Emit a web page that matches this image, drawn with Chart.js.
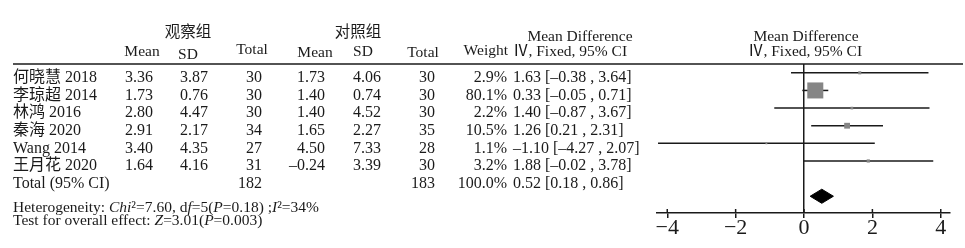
<!DOCTYPE html>
<html>
<head>
<meta charset="utf-8">
<script src="https://cdn.jsdelivr.net/npm/chart.js@4.4.1/dist/chart.umd.min.js"></script>
<style>
html, body { margin: 0; padding: 0; background: #fff; }
canvas { display: block; }
</style>
</head>
<body>
<canvas id="forestChart" width="965" height="248"></canvas>
<script>
// study rows
const studies = ['何晓慧 2018', '李琼超 2014', '林鸿 2016', '秦海 2020', 'Wang 2014', '王月花 2020'];
const expMean = [3.36, 1.73, 2.80, 2.91, 3.40, 1.64];
const expSD = [3.87, 0.76, 4.47, 2.17, 4.35, 4.16];
const expN = [30, 30, 30, 34, 27, 31];
const ctrlMean = [1.73, 1.40, 1.40, 1.65, 4.50, -0.24];
const ctrlSD = [4.06, 0.74, 4.52, 2.27, 7.33, 3.39];
const ctrlN = [30, 30, 30, 35, 28, 30];
const weights = [2.9, 80.1, 2.2, 10.5, 1.1, 3.2];
const md = [1.63, 0.33, 1.40, 1.26, -1.10, 1.88];
const ciLow = [-0.38, -0.05, -0.87, 0.21, -4.27, -0.02];
const ciHigh = [3.64, 0.71, 3.67, 2.31, 2.07, 3.78];

// pooled result
const totalLabel = 'Total (95% CI)';
const expTotal = 182;
const ctrlTotal = 183;
const totalWeight = 100.0;
const pooled = [0.18, 0.52, 0.86];

const xTicks = [-4, -2, 0, 2, 4];

const serif = "'Liberation Serif', 'Times New Roman', 'Noto Sans CJK SC', serif";
const ink = '#1a1a1a';

function fmt(v) {
    return v < 0 ? '–' + Math.abs(v).toFixed(2) : v.toFixed(2);
}

function ciText(m, lo, hi) {
    return fmt(m) + ' [' + fmt(lo) + ' , ' + fmt(hi) + ']';
}

function put(ctx, s, x, y, align, size, italic) {
    ctx.font = (italic ? 'italic ' : '') + (size || 16) + 'px ' + serif;
    ctx.textAlign = align || 'left';
    ctx.fillText(s, x, y);
}

function runs(ctx, parts, x, y, size) {
    ctx.textAlign = 'left';
    parts.forEach(p => {
        ctx.font = (p[1] ? 'italic ' : '') + size + 'px ' + serif;
        ctx.fillText(p[0], x, y);
        x += ctx.measureText(p[0]).width;
    });
}

const tablePlugin = {
    id: 'forestTable',
    afterDraw(chart) {
        const ctx = chart.ctx;
        const y = chart.scales.y;
        const x = chart.scales.x;
        const hs = 15.5;
        ctx.save();
        ctx.fillStyle = ink;
        ctx.textBaseline = 'middle';

        // headers
        put(ctx, '观察组', 188, 33, 'center', hs);
        put(ctx, '对照组', 358, 33, 'center', hs);
        put(ctx, 'Mean Difference', 580, 37, 'center', hs);
        put(ctx, 'Mean Difference', 806, 37, 'center', hs);
        put(ctx, 'Mean', 142, 52, 'center', hs);
        put(ctx, 'SD', 188, 55, 'center', hs);
        put(ctx, 'Total', 252, 50, 'center', hs);
        put(ctx, 'Mean', 315, 53, 'center', hs);
        put(ctx, 'SD', 363, 52, 'center', hs);
        put(ctx, 'Total', 423, 53, 'center', hs);
        put(ctx, 'Weight', 508, 51, 'right', hs);
        put(ctx, 'Ⅳ, Fixed, 95% CI', 513, 52, 'left', hs);
        put(ctx, 'Ⅳ, Fixed, 95% CI', 805, 52, 'center', hs);

        // header rule
        ctx.strokeStyle = ink;
        ctx.lineWidth = 1.5;
        ctx.beginPath();
        ctx.moveTo(13, 64);
        ctx.lineTo(963, 64);
        ctx.stroke();

        // study rows
        studies.forEach((s, i) => {
            const ty = y.getPixelForValue(i) + 5;
            put(ctx, s, 13, ty, 'left');
            put(ctx, fmt(expMean[i]), 125, ty, 'left');
            put(ctx, fmt(expSD[i]), 180, ty, 'left');
            put(ctx, String(expN[i]), 262, ty, 'right');
            put(ctx, fmt(ctrlMean[i]), 325, ty, 'right');
            put(ctx, fmt(ctrlSD[i]), 353, ty, 'left');
            put(ctx, String(ctrlN[i]), 435, ty, 'right');
            put(ctx, weights[i].toFixed(1) + '%', 507, ty, 'right');
            put(ctx, ciText(md[i], ciLow[i], ciHigh[i]), 513, ty, 'left');
        });

        const tt = y.getPixelForValue(studies.length) + 5;
        put(ctx, totalLabel, 13, tt, 'left');
        put(ctx, String(expTotal), 262, tt, 'right');
        put(ctx, String(ctrlTotal), 435, tt, 'right');
        put(ctx, totalWeight.toFixed(1) + '%', 507, tt, 'right');
        put(ctx, ciText(pooled[1], pooled[0], pooled[2]), 513, tt, 'left');

        runs(ctx, [['Heterogeneity: ', 0], ['Chi', 1], ['²=7.60, d', 0], ['f', 1], ['=5(', 0],
            ['P', 1], ['=0.18) ;', 0], ['I', 1], ['²=34%', 0]], 13, 208, 15.5);
        runs(ctx, [['Test for overall effect: ', 0], ['Z', 1], ['=3.01(', 0], ['P', 1], ['=0.003)', 0]], 13, 221, 15.5);

        // upper half of the axis ticks
        ctx.strokeStyle = ink;
        ctx.lineWidth = 1.5;
        xTicks.forEach(v => {
            const px = x.getPixelForValue(v);
            ctx.beginPath();
            ctx.moveTo(px, x.top - 4);
            ctx.lineTo(px, x.top);
            ctx.stroke();
        });
        ctx.restore();
    }
};

const ciSets = studies.map((s, i) => ({
        label: s,
        data: [{x: ciLow[i], y: i}, {x: ciHigh[i], y: i}],
        showLine: true,
        borderColor: ink,
        borderWidth: 1.5,
        pointRadius: 0
    }));

new Chart(document.getElementById('forestChart'), {
    type: 'scatter',
    data: {
        datasets: [
            {
                label: 'Mean Difference',
                data: md.map((m, i) => ({x: m, y: i})),
                pointStyle: 'rect',
                pointRadius: c => 1.79 * Math.sqrt(weights[c.dataIndex]) / Math.SQRT2,
                pointBorderWidth: 0,
                backgroundColor: '#858585',
                borderColor: '#858585'
            },
            {
                label: totalLabel,
                data: [
                    {x: pooled[0], y: studies.length + 1},
                    {x: pooled[1], y: studies.length + 0.6},
                    {x: pooled[2], y: studies.length + 1},
                    {x: pooled[1], y: studies.length + 1.4},
                    {x: pooled[0], y: studies.length + 1}
                ],
                showLine: true,
                fill: 'shape',
                tension: 0,
                borderWidth: 1,
                borderColor: '#000',
                backgroundColor: '#000',
                pointRadius: 0
            },
            ...ciSets
        ]
    },
    options: {
        responsive: false,
        animation: false,
        layout: {
            padding: {left: 657, right: 15, top: 64, bottom: 0}
        },
        plugins: {
            legend: {display: false},
            tooltip: {enabled: false}
        },
        scales: {
            x: {
                type: 'linear',
                min: -4.3,
                max: 4.27,
                afterBuildTicks: axis => {
                    axis.ticks = xTicks.map(v => ({value: v}));
                },
                afterFit: axis => {
                    axis.height = 35;
                },
                border: {display: true, color: ink, width: 1.5},
                grid: {
                    color: c => (c.tick && c.tick.value === 0) ? ink : 'rgba(0,0,0,0)',
                    lineWidth: 1.5,
                    tickColor: ink,
                    tickWidth: 1.5,
                    tickLength: 5
                },
                ticks: {
                    color: ink,
                    padding: -3,
                    font: {family: serif, size: 22},
                    callback: v => v < 0 ? '−' + Math.abs(v) : String(v)
                }
            },
            y: {
                type: 'linear',
                display: false,
                reverse: true,
                min: -0.5,
                max: 7.95
            }
        }
    },
    plugins: [tablePlugin]
});
</script>
</body>
</html>
